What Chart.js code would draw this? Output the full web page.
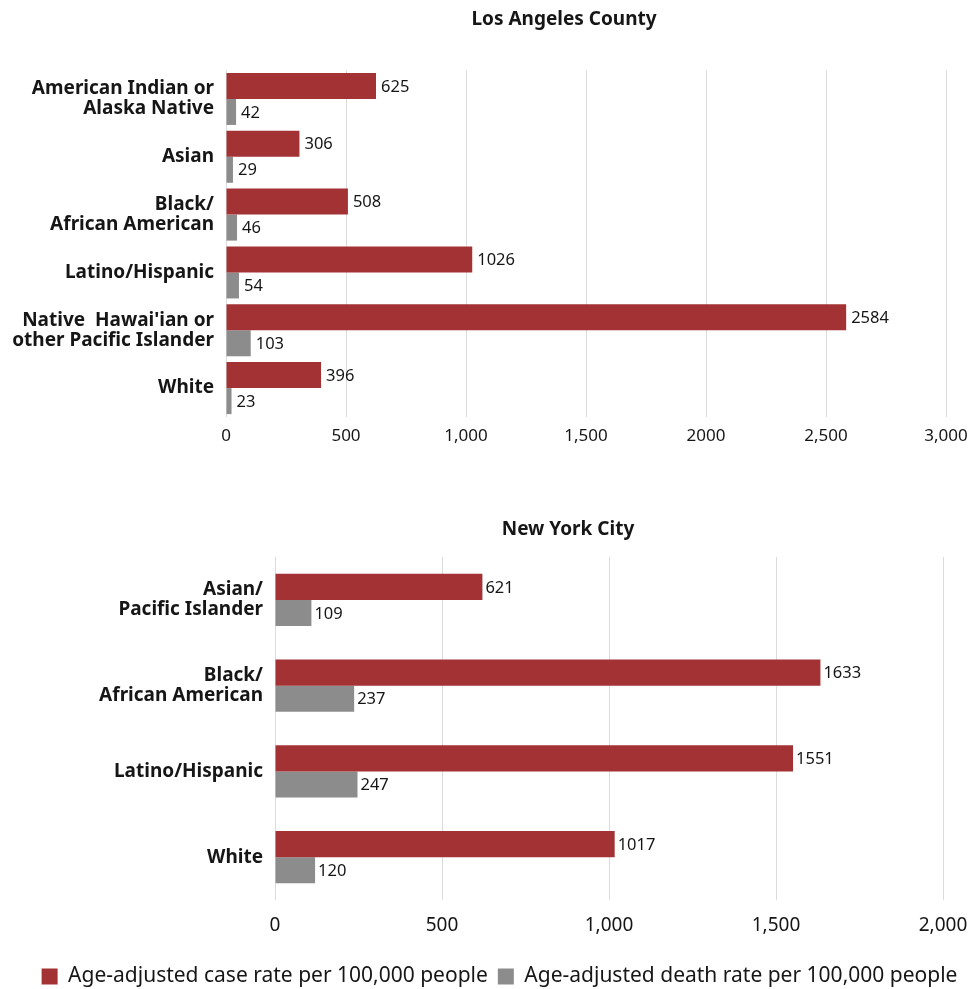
<!DOCTYPE html>
<html>
<head>
<meta charset="utf-8">
<script src="https://cdn.jsdelivr.net/npm/chart.js@4.4.1/dist/chart.umd.min.js"></script>
<style>
  html, body { margin: 0; padding: 0; background: #ffffff; overflow: hidden; }
  #wrap { position: relative; width: 971px; height: 989px; overflow: hidden; }
  #laChart { position: absolute; left: 0; top: 0; }
  #nycChart { position: absolute; left: 0; top: 480px; }
</style>
</head>
<body>
<div id="wrap">
  <canvas id="laChart" width="971" height="460"></canvas>
  <canvas id="nycChart" width="971" height="517"></canvas>
</div>
<script>
// Los Angeles County
const laCategories = [
  ['American Indian or', 'Alaska Native'],
  'Asian',
  ['Black/', 'African American'],
  'Latino/Hispanic',
  ["Native  Hawai'ian or", 'other Pacific Islander'],
  'White'
];
const laCaseRate = [625, 306, 508, 1026, 2584, 396];
const laDeathRate = [42, 29, 46, 54, 103, 23];
const laTickLabels = ['0', '500', '1,000', '1,500', '2000', '2,500', '3,000'];

// New York City
const nycCategories = [
  ['Asian/', 'Pacific Islander'],
  ['Black/', 'African American'],
  'Latino/Hispanic',
  'White'
];
const nycCaseRate = [621, 1633, 1551, 1017];
const nycDeathRate = [109, 237, 247, 120];
const nycTickLabels = ['0', '500', '1,000', '1,500', '2,000'];

const seriesNames = [
  'Age-adjusted case rate per 100,000 people',
  'Age-adjusted death rate per 100,000 people'
];

const RED = '#a33234';
const GRAY = '#8c8c8c';
const TEXT = '#161616';
const FONT = "'Noto Sans', 'DejaVu Sans', sans-serif";

// Writes each bar's value just past its end
const valueLabels = {
  id: 'valueLabels',
  afterDatasetsDraw(chart, args, opts) {
    const ctx = chart.ctx;
    ctx.save();
    ctx.font = `${opts.size}px ${FONT}`;
    ctx.fillStyle = TEXT;
    ctx.textAlign = 'left';
    ctx.textBaseline = 'middle';
    chart.data.datasets.forEach((ds, i) => {
      const meta = chart.getDatasetMeta(i);
      meta.data.forEach((bar, j) => {
        ctx.fillText(String(ds.data[j]), bar.x + opts.offset, bar.y + 1);
      });
    });
    ctx.restore();
  }
};

// Panel heading, centred on a chosen x position
const panelTitle = {
  id: 'panelTitle',
  afterDraw(chart, args, opts) {
    const ctx = chart.ctx;
    ctx.save();
    ctx.font = `bold ${opts.size}px ${FONT}`;
    ctx.fillStyle = TEXT;
    ctx.textAlign = 'center';
    ctx.textBaseline = 'middle';
    ctx.fillText(opts.text, opts.x, opts.y);
    ctx.restore();
  }
};

function makeChart(id, cfg) {
  return new Chart(document.getElementById(id), {
    type: 'bar',
    data: {
      labels: cfg.categories,
      datasets: [
        { label: seriesNames[0], data: cfg.caseRate, backgroundColor: RED,
          categoryPercentage: cfg.catPct, barPercentage: 1.0 },
        { label: seriesNames[1], data: cfg.deathRate, backgroundColor: GRAY,
          categoryPercentage: cfg.catPct, barPercentage: 1.0 }
      ]
    },
    options: {
      indexAxis: 'y',
      responsive: false,
      animation: false,
      devicePixelRatio: 1,
      layout: { padding: cfg.padding },
      plugins: {
        title: { display: false },
        panelTitle: { text: cfg.title, x: cfg.titleX, y: cfg.titleY, size: 19 },
        legend: cfg.legend,
        tooltip: { enabled: false },
        valueLabels: { size: 16.5, offset: cfg.labelOffset }
      },
      scales: {
        x: {
          min: 0,
          max: cfg.max,
          ticks: {
            stepSize: 500,
            padding: cfg.tickPad,
            color: TEXT,
            maxRotation: 0,
            font: { family: FONT, size: cfg.tickSize },
            callback: (v, i) => cfg.tickLabels[i]
          },
          grid: { color: '#dcdcdc', lineWidth: 1, drawTicks: false },
          border: { display: false },
          afterFit: s => {
            s.height = cfg.xHeight;
            s.paddingRight = cfg.rightGap;
          }
        },
        y: {
          ticks: {
            color: TEXT,
            padding: 12,
            font: { family: FONT, size: 19, weight: 'bold', lineHeight: 1.05 }
          },
          grid: { display: false, drawTicks: false },
          border: { display: false },
          afterFit: s => { s.width = cfg.yWidth; }
        }
      }
    },
    plugins: [valueLabels, panelTitle]
  });
}

makeChart('laChart', {
  title: 'Los Angeles County',
  titleX: 564,
  titleY: 20,
  categories: laCategories,
  caseRate: laCaseRate,
  deathRate: laDeathRate,
  tickLabels: laTickLabels,
  max: 3000,
  catPct: 0.9,
  yWidth: 226,
  padding: { left: 0, right: 0, top: 70, bottom: 0 },
  rightGap: 25,
  xHeight: 43,
  tickPad: 9,
  tickSize: 17,
  labelOffset: 5,
  legend: { display: false }
});

makeChart('nycChart', {
  title: 'New York City',
  titleX: 568,
  titleY: 50,
  categories: nycCategories,
  caseRate: nycCaseRate,
  deathRate: nycDeathRate,
  tickLabels: nycTickLabels,
  max: 2000,
  catPct: 0.607,
  yWidth: 247,
  padding: { left: 28, right: 0, top: 77, bottom: 0 },
  rightGap: 28,
  xHeight: 56,
  tickPad: 14,
  tickSize: 19,
  labelOffset: 3,
  legend: {
    display: true,
    position: 'bottom',
    labels: {
      color: TEXT,
      boxWidth: 16,
      boxHeight: 16,
      padding: 10,
      font: { family: FONT, size: 21 }
    }
  }
});
</script>
</body>
</html>
